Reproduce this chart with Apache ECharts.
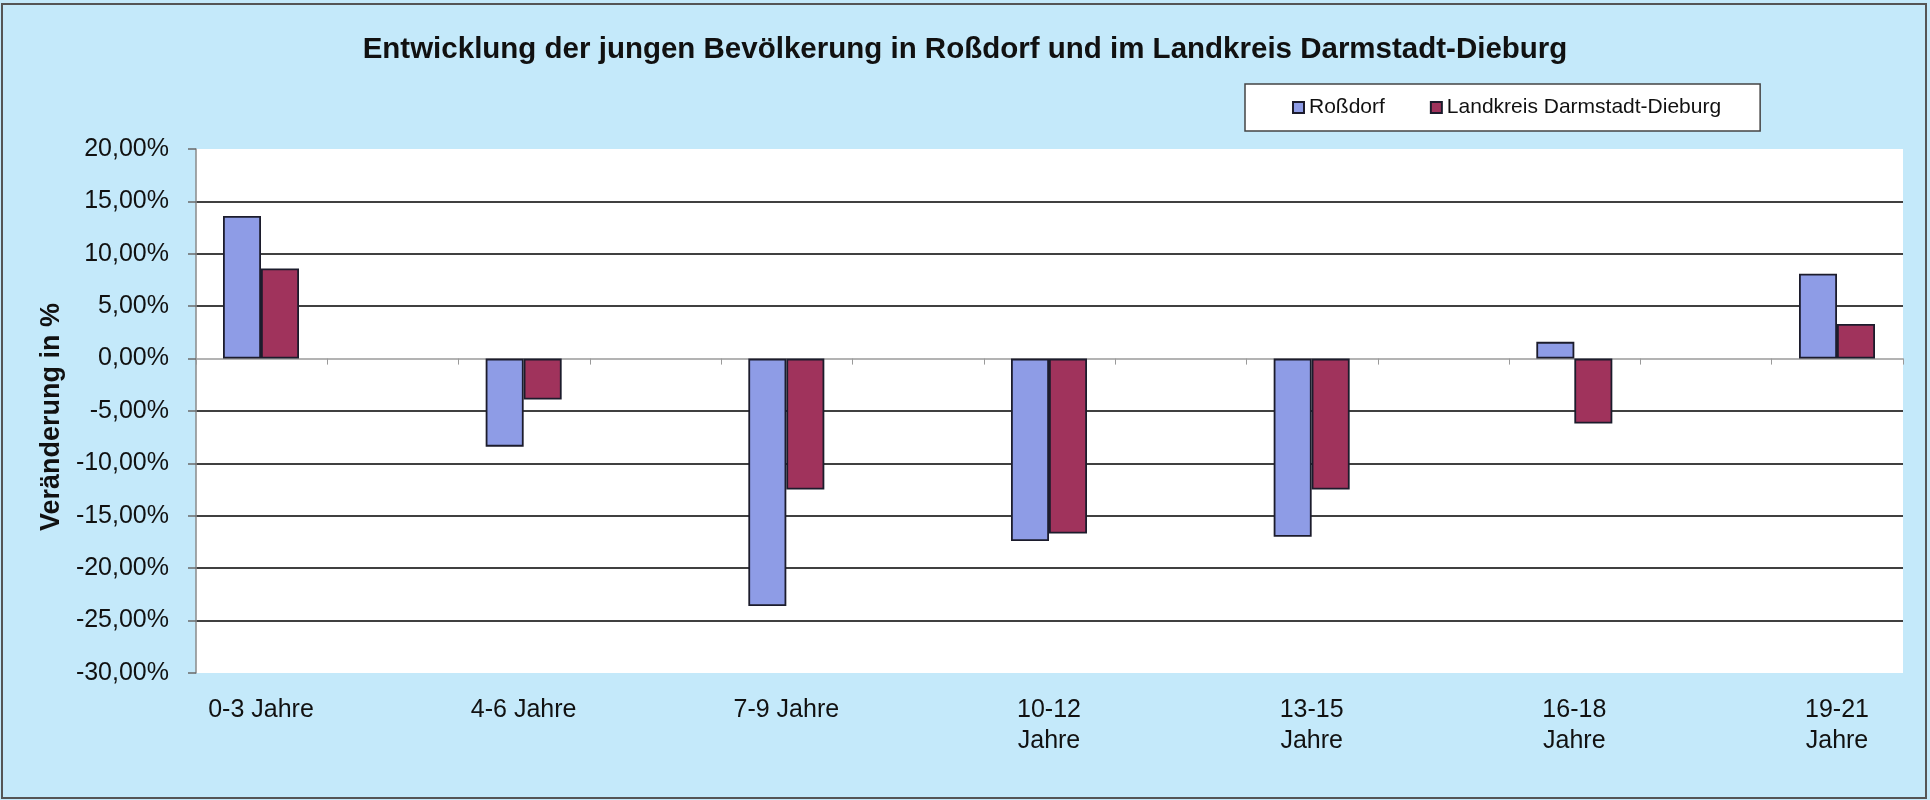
<!DOCTYPE html>
<html>
<head>
<meta charset="utf-8">
<script src="https://cdn.jsdelivr.net/npm/echarts@6/dist/echarts.min.js"></script>
<style>
  html, body { margin: 0; padding: 0; background: #c4e9fa; }
  #chart { width: 1930px; height: 800px; }
</style>
</head>
<body>
<div id="chart"></div>
<script>
// ---- data ----
const categories = ['0-3 Jahre', '4-6 Jahre', '7-9 Jahre', '10-12\nJahre', '13-15\nJahre', '16-18\nJahre', '19-21\nJahre'];
const seriesNames = ['Roßdorf', 'Landkreis Darmstadt-Dieburg'];
const rossdorf = [13.6, -8.4, -23.6, -17.4, -17.0, 1.6, 8.1];
const landkreis = [8.6, -3.9, -12.5, -16.7, -12.5, -6.2, 3.3];
const yTicks = { min: -30, max: 20, step: 5 };
const titleText = 'Entwicklung der jungen Bevölkerung in Roßdorf und im Landkreis Darmstadt-Dieburg';
const yAxisTitle = 'Veränderung in %';
// half-category tick slots of the value axis line (Excel style)
const tickSlots = ['', '', '', '', '', '', '', '', '', '', '', '', ''];

const FONT = '"Liberation Sans", Arial, sans-serif';
const gridTop = 149, gridBottom = 127;

// split line colours: none at top/bottom edges and at zero (zero drawn by axis line)
const splitColors = [];
for (let v = yTicks.min; v <= yTicks.max + 1e-9; v += yTicks.step) {
  if (v === yTicks.min || v === yTicks.max || v === 0) splitColors.push('rgba(0,0,0,0)');
  else splitColors.push('#404040');
}

const chart = echarts.init(document.getElementById('chart'), null, { renderer: 'canvas' });
chart.setOption({
  backgroundColor: '#c4e9fa',
  textStyle: { fontFamily: FONT, color: '#111' },
  animation: false,
  title: {
    text: titleText,
    left: 'center',
    top: 35,
    padding: 0,
    textStyle: { fontFamily: FONT, fontWeight: 'bold', fontSize: 29.5, color: '#111' }
  },
  legend: {
    data: seriesNames,
    left: 1245,
    top: 84,
    orient: 'horizontal',
    icon: 'rect',
    itemWidth: 11,
    itemHeight: 11,
    itemGap: 45,
    padding: [13, 39, 13, 47],
    backgroundColor: '#ffffff',
    borderColor: '#444',
    borderWidth: 1.5,
    textStyle: { fontFamily: FONT, fontSize: 21, color: '#111' }
  },
  graphic: [{
    type: 'rect',
    shape: { x: 2, y: 4, width: 1924, height: 794 },
    style: { fill: 'none', stroke: '#555', lineWidth: 2 },
    silent: true,
    z: 100
  }],
  grid: [
    { left: 196, right: 27, top: gridTop, bottom: gridBottom, show: true, backgroundColor: '#ffffff', borderWidth: 0 },
    { left: 261, right: 93, top: gridTop, bottom: gridBottom, show: false }
  ],
  xAxis: [
    {
      gridIndex: 0,
      type: 'category',
      data: tickSlots,
      boundaryGap: true,
      axisLine: { show: true, onZero: true, lineStyle: { color: '#9a9a9a', width: 1.5 } },
      axisTick: { show: true, length: 6, interval: 0, lineStyle: { color: '#9a9a9a', width: 1 } },
      axisLabel: { show: false },
      splitLine: { show: false }
    },
    {
      gridIndex: 1,
      type: 'category',
      data: categories,
      boundaryGap: false,
      axisLine: { show: false, onZero: false },
      axisTick: { show: false },
      axisLabel: {
        interval: 0,
        margin: 22,
        fontFamily: FONT,
        fontSize: 25,
        color: '#111',
        lineHeight: 31
      },
      splitLine: { show: false }
    }
  ],
  yAxis: [
    {
      gridIndex: 0,
      type: 'value',
      min: yTicks.min,
      max: yTicks.max,
      interval: yTicks.step,
      name: yAxisTitle,
      nameLocation: 'middle',
      nameGap: 131,
      nameTextStyle: { fontFamily: FONT, fontWeight: 'bold', fontSize: 27, color: '#111', padding: [0, 12, 0, 0] },
      axisLine: { show: true, lineStyle: { color: '#8a8a8a', width: 1.5 } },
      axisTick: { show: true, length: 8, lineStyle: { color: '#6a6a6a', width: 1.5 } },
      axisLabel: {
        margin: 27,
        fontFamily: FONT,
        fontSize: 25,
        color: '#111',
        formatter: v => v.toFixed(2).replace('.', ',') + '%'
      },
      splitLine: { show: true, lineStyle: { color: splitColors, width: 2 } }
    },
    {
      gridIndex: 1,
      type: 'value',
      min: yTicks.min,
      max: yTicks.max,
      interval: yTicks.step,
      show: false,
      splitLine: { show: false }
    }
  ],
  series: [
    {
      name: seriesNames[0],
      type: 'bar',
      xAxisIndex: 1,
      yAxisIndex: 1,
      data: rossdorf,
      barWidth: 38,
      barGap: '0%',
      clip: false,
      itemStyle: { color: '#8e9ce6', borderColor: '#1c1c2c', borderWidth: 1.8 },
      z: 5
    },
    {
      name: seriesNames[1],
      type: 'bar',
      xAxisIndex: 1,
      yAxisIndex: 1,
      data: landkreis,
      barWidth: 38,
      barGap: '0%',
      clip: false,
      itemStyle: { color: '#a0335c', borderColor: '#1c1c2c', borderWidth: 1.8 },
      z: 5
    }
  ]
});
</script>
</body>
</html>
